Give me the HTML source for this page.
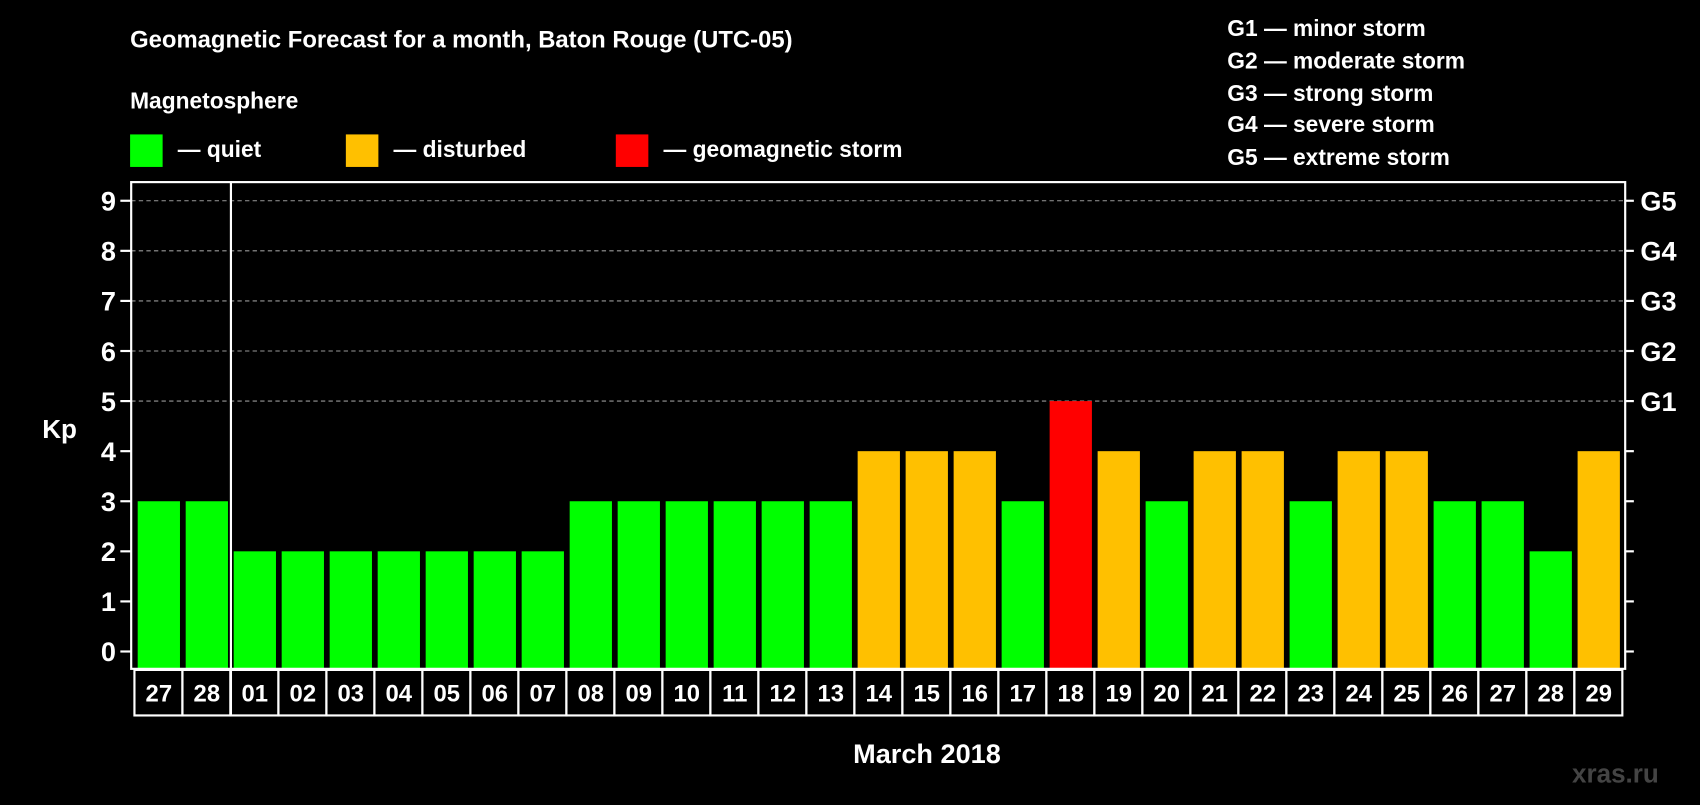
<!DOCTYPE html>
<html><head><meta charset="utf-8"><style>
body{margin:0;background:#000;width:1700px;height:800px;overflow:hidden}
svg text{font-family:"Liberation Sans",Arial,sans-serif;font-weight:bold;fill:#fff}
</style></head><body>
<svg id="c" width="1700" height="800" viewBox="0 0 1568 738" preserveAspectRatio="none">
<text x="120" y="44" font-size="22">Geomagnetic Forecast for a month, Baton Rouge (UTC-05)</text>
<text x="120" y="100" font-size="21">Magnetosphere</text>
<rect x="120" y="124" width="30" height="30" fill="#00ff00"/>
<text x="164" y="145" font-size="21">— quiet</text>
<rect x="319" y="124" width="30" height="30" fill="#ffc000"/>
<text x="363" y="145" font-size="21">— disturbed</text>
<rect x="568" y="124" width="30" height="30" fill="#ff0000"/>
<text x="612" y="145" font-size="21">— geomagnetic storm</text>
<g font-size="21">
<text x="1132" y="33">G1 — minor storm</text>
<text x="1132" y="63">G2 — moderate storm</text>
<text x="1132" y="93">G3 — strong storm</text>
<text x="1132" y="122">G4 — severe storm</text>
<text x="1132" y="152">G5 — extreme storm</text>
</g>
<text x="39" y="404" font-size="24">Kp</text>
<text x="855" y="704" font-size="25" text-anchor="middle">March 2018</text>
<text x="1530" y="722" font-size="24" text-anchor="end" style="fill:#444">xras.ru</text>
<g id="grid"></g><g id="bars"></g><g id="labels"></g>
<rect x="121" y="168" width="1378" height="449" fill="none" stroke="#fff" stroke-width="2"/>
<line x1="213" y1="168" x2="213" y2="660" stroke="#fff" stroke-width="2"/>
</svg>
<script>
const days=["27","28","01","02","03","04","05","06","07","08","09","10","11","12","13","14","15","16","17","18","19","20","21","22","23","24","25","26","27","28","29"];
const kp=[3,3,2,2,2,2,2,2,2,3,3,3,3,3,3,4,4,4,3,5,4,3,4,4,3,4,4,3,3,2,4];
const yTicks=[0,1,2,3,4,5,6,7,8,9];
const gLabels=["G1","G2","G3","G4","G5"];
const NS="http://www.w3.org/2000/svg";
const y=v=>601-v*46.2, x=i=>127+i*44.27, BW=39;
function mk(t,a,p){const e=document.createElementNS(NS,t);for(const k in a)e.setAttribute(k,a[k]);p.appendChild(e);return e;}
const grid=document.getElementById('grid'),bars=document.getElementById('bars'),labels=document.getElementById('labels');
yTicks.forEach(v=>{
 const t=mk('line',{x1:111,x2:121,y1:y(v),y2:y(v),stroke:'#fff','stroke-width':2},grid);
 
 
 const r=mk('line',{x1:1499,x2:1507,y1:y(v),y2:y(v),stroke:'#fff','stroke-width':2},grid);
 
 
 const l=mk('text',{x:107,y:y(v)+9,'font-size':25,'text-anchor':'end'},grid);l.textContent=v;
 
 
 if(v>=5){const g=mk('line',{x1:121,x2:1499,y1:y(v),y2:y(v),stroke:'#999','stroke-width':1,'stroke-dasharray':'4,3'},grid);
 
 
 const gl=mk('text',{x:1513,y:y(v)+9,'font-size':25},grid);gl.textContent=gLabels[v-5];
 
 }
});
kp.forEach((v,i)=>{
 const c=v>=5?'#ff0000':v>=4?'#ffc000':'#00ff00';
 const b=mk('rect',{x:x(i),y:y(v),width:BW,height:617-y(v),fill:c},bars);
 
 
 const bx=mk('rect',{x:x(i)-3,y:618,width:44.27,height:42,fill:'none',stroke:'#fff','stroke-width':2},labels);
 
 
 const t=mk('text',{x:x(i)+BW/2,y:647,'font-size':22,'text-anchor':'middle'},labels);t.textContent=days[i];
 
 
});
</script>
</body></html>
